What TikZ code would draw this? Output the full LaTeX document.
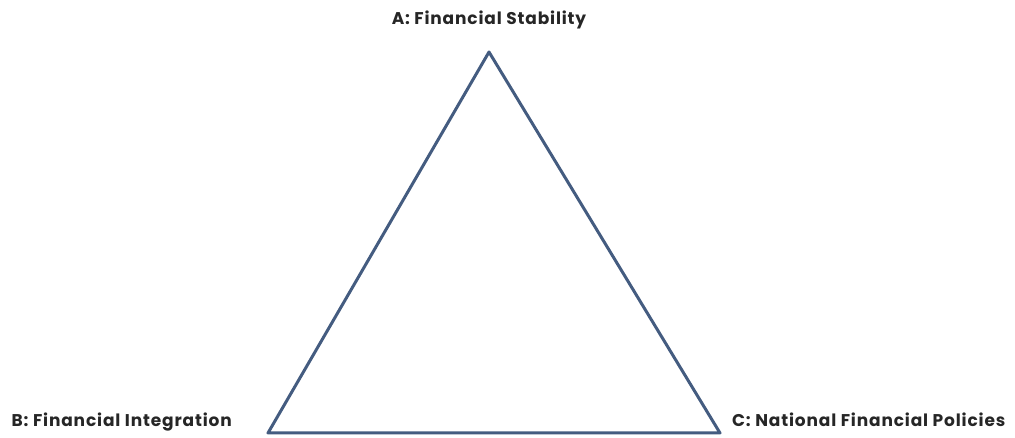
\documentclass[tikz,border=0pt]{standalone}
\usepackage{fontspec}
\setmainfont{Poppins}[LetterSpace=5]
\definecolor{edge}{RGB}{68,92,128}
\usetikzlibrary{positioning}
\tikzset{
  corner/.style={font=\bfseries\fontsize{17}{19}\selectfont, inner sep=0pt, text=black!85},
  side/.style={draw=edge, line width=3pt, line join=round},
}
\begin{document}
\begin{tikzpicture}[x=1pt,y=1pt]
  \useasboundingbox (0,0) rectangle (1015,438);
  \coordinate (a) at (489,386);
  \coordinate (b) at (268,5);
  \coordinate (c) at (720,5);
  \draw[side] (a) -- (b) -- (c) -- cycle;
  \node[corner,anchor=base](la) at ([yshift=27pt]a){A: Financial Stability};
  \node[corner,anchor=base east](lb) at ([xshift=-36pt,yshift=6pt]b){B: Financial Integration};
  \node[corner,anchor=base west](lc) at ([xshift=12pt,yshift=6pt]c){C: National Financial Policies};
\end{tikzpicture}
\end{document}
